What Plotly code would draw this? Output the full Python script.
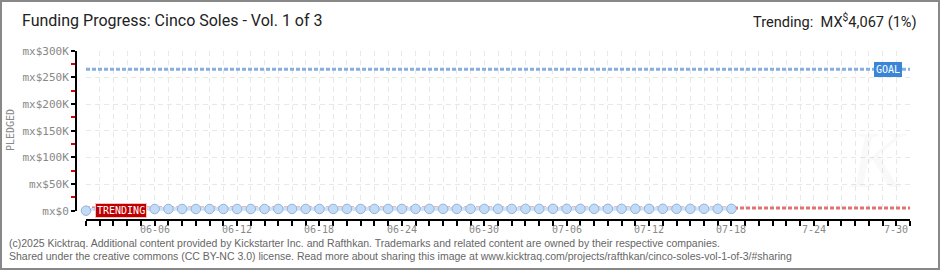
import plotly.graph_objects as go
import pandas as pd

# ---------------- data ----------------
pledge_dates = pd.date_range("2025-06-01", "2025-07-18", freq="D").strftime("%Y-%m-%d").tolist()
pledged = [0] + [3000] * 3 + [3200] * 10 + [3300] * 10 + [3400] * 10 + [3500] * 14
trend_dates = ["2025-06-01", "2025-07-31"]
trend_values = [5000, 5000]
goal_value = 265000
goal_dates = ["2025-06-01", "2025-07-31"]

x_tick_dates = pd.date_range("2025-06-01", "2025-07-31", freq="D").strftime("%Y-%m-%d").tolist()
x_label_dates = ["2025-06-06", "2025-06-12", "2025-06-18", "2025-06-24", "2025-06-30",
                 "2025-07-06", "2025-07-12", "2025-07-18", "2025-07-24", "2025-07-30"]
x_label_text = ["06-06", "06-12", "06-18", "06-24", "06-30",
                "07-06", "07-12", "07-18", "7-24", "7-30"]

y_tick_vals = [0, 50000, 100000, 150000, 200000, 250000, 300000]
y_tick_text = ["mx$0", "mx$50K", "mx$100K", "mx$150K", "mx$200K", "mx$250K", "mx$300K"]
y_minor_vals = [25000, 75000, 125000, 175000, 225000, 275000]

title_text = "Funding Progress: Cinco Soles - Vol. 1 of 3"
trend_text = "Trending:  MX<sup>$</sup>4,067 (1%)"
footer1 = "(c)2025 Kicktraq. Additional content provided by Kickstarter Inc. and Rafthkan. Trademarks and related content are owned by their respective companies."
footer2 = "Shared under the creative commons (CC BY-NC 3.0) license. Read more about sharing this image at www.kicktraq.com/projects/rafthkan/cinco-soles-vol-1-of-3/#sharing"

# ---------------- layout helpers (pixel -> paper) ----------------
W, H = 940, 270
L, R, T, B = 76, 30, 50, 50
PW, PH = W - L - R, H - T - B


def px(x):
    return (x - L) / PW


def py(y):
    return (H - B - y) / PH


PIX = "DejaVu Sans Mono"

fig = go.Figure()

# goal line
fig.add_trace(go.Scatter(x=goal_dates, y=[goal_value, goal_value], mode="lines",
                         line=dict(color="#86afe0", width=3, dash="4px,2px"),
                         hoverinfo="skip", showlegend=False, cliponaxis=False))
# trend line
fig.add_trace(go.Scatter(x=trend_dates, y=trend_values, mode="lines",
                         line=dict(color="#e07474", width=3, dash="4px,2px"),
                         hoverinfo="skip", showlegend=False, cliponaxis=False))
# pledged
fig.add_trace(go.Scatter(x=pledge_dates, y=pledged, mode="lines+markers",
                         line=dict(color="#cfe1f6", width=4),
                         marker=dict(size=9.5, color="#c4dbf5", line=dict(color="#8fb3de", width=1)),
                         showlegend=False, cliponaxis=False))

fig.update_layout(
    width=W, height=H,
    margin=dict(l=L, r=R, t=T, b=B),
    paper_bgcolor="white", plot_bgcolor="white",
    xaxis=dict(
        type="date",
        range=["2025-06-01", "2025-07-31"],
        domain=[px(86), 1],
        anchor="free", position=0,
        showline=True, linecolor="black", linewidth=2,
        ticks="outside", ticklen=5, tickwidth=1.5, tickcolor="black",
        tickvals=x_tick_dates, ticktext=[""] * len(x_tick_dates),
        showgrid=True, gridcolor="#e8e8e8", gridwidth=1, griddash="5px,4px",
        zeroline=False,
    ),
    yaxis=dict(
        range=[0, 300000],
        domain=[py(210.7), py(50.7)],
        anchor="free", position=0,
        showline=True, linecolor="black", linewidth=2,
        ticks="outside", ticklen=4, tickwidth=2, tickcolor="black",
        tickvals=y_tick_vals, ticktext=y_tick_text,
        tickfont=dict(family=PIX, size=11, color="#888888"),
        showgrid=True, gridcolor="#e8e8e8", gridwidth=1, griddash="5px,4px",
        zeroline=False,
        minor=dict(tickvals=y_minor_vals, ticks="outside", ticklen=4, tickwidth=2,
                   tickcolor="#e00000", showgrid=False),
    ),
    font=dict(family="Liberation Sans"),
)

annotations = [
    dict(text=title_text, x=px(20), y=py(21), xref="paper", yref="paper",
         xanchor="left", yanchor="middle", showarrow=False,
         font=dict(family="Roboto", size=16, color="#222222")),
    dict(text=trend_text, x=px(919), y=py(21), xref="paper", yref="paper",
         xanchor="right", yanchor="middle", showarrow=False,
         font=dict(family="Roboto", size=14.6, color="#222222")),
    dict(text="PLEDGED", x=px(10), y=py(130), xref="paper", yref="paper",
         xanchor="center", yanchor="middle", showarrow=False, textangle=-90,
         font=dict(family=PIX, size=10, color="#888888")),
    dict(text="GOAL", x=px(888), y=py(69), xref="paper", yref="paper",
         xanchor="center", yanchor="middle", showarrow=False,
         bgcolor="#3a86d6", borderpad=2, bordercolor="#3a86d6", borderwidth=0,
         font=dict(family=PIX, size=10, color="white")),
    dict(text="TRENDING", x=px(120.5), y=py(210), xref="paper", yref="paper",
         xanchor="center", yanchor="middle", showarrow=False,
         bgcolor="#c00000", borderpad=1, bordercolor="#f2c0c0", borderwidth=1,
         font=dict(family=PIX, size=10, color="white")),
    dict(text=footer1, x=px(7), y=py(243), xref="paper", yref="paper",
         xanchor="left", yanchor="middle", showarrow=False,
         font=dict(family="Liberation Sans", size=10.5, color="#666666")),
    dict(text=footer2, x=px(7), y=py(256), xref="paper", yref="paper",
         xanchor="left", yanchor="middle", showarrow=False,
         font=dict(family="Liberation Sans", size=10.5, color="#666666")),
    dict(text="<i>K</i>", x=px(878), y=py(160), xref="paper", yref="paper",
         xanchor="center", yanchor="middle", showarrow=False,
         font=dict(family="Liberation Serif", size=80, color="rgba(0,0,0,0.025)")),
]
for d, t in zip(x_label_dates, x_label_text):
    annotations.append(dict(text=t, x=d, y=py(229.5), xref="x", yref="paper",
                            xanchor="center", yanchor="middle", showarrow=False,
                            font=dict(family=PIX, size=10, color="#888888")))
fig.update_layout(annotations=annotations)

# outer border
fig.add_shape(type="rect", xref="paper", yref="paper",
              x0=px(1), x1=px(939), y0=py(1), y1=py(269),
              line=dict(color="#888888", width=2), fillcolor="rgba(0,0,0,0)", layer="above")

fig.write_html("out.html")
